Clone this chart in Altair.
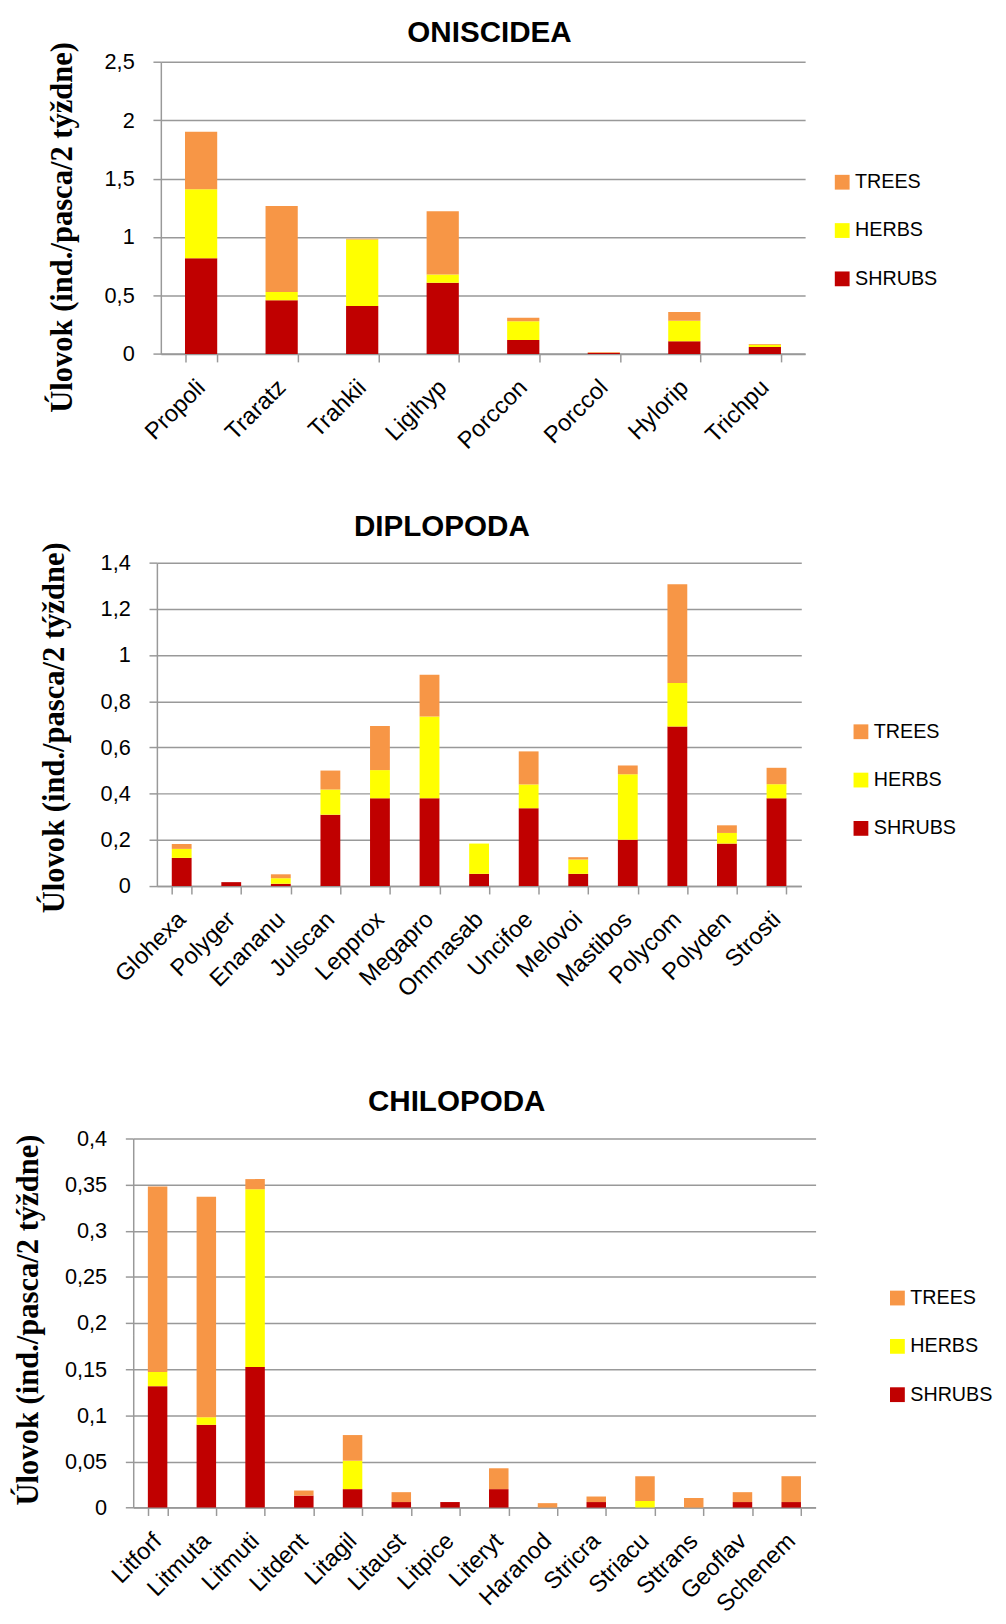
import altair as alt
import pandas as pd

GROUPS = ["TREES", "HERBS", "SHRUBS"]
COLORS = ["#F79646", "#FFFF00", "#C00000"]
Y_TITLE = "Úlovok (ind./pasca/2 týždne)"

ONI_TITLE = "ONISCIDEA"
ONI_CATS = ["Propoli", "Traratz", "Trahkii", "Ligihyp", "Porccon", "Porccol", "Hylorip", "Trichpu"]
ONI_SHRUBS = [0.82, 0.46, 0.41, 0.61, 0.12, 0.008, 0.11, 0.06]
ONI_HERBS = [0.59, 0.07, 0.57, 0.07, 0.16, 0.0, 0.175, 0.02]
ONI_TREES = [0.49, 0.735, 0.005, 0.54, 0.03, 0.008, 0.075, 0.005]
ONI_TICKS = [0, 0.5, 1, 1.5, 2, 2.5]

DIP_TITLE = "DIPLOPODA"
DIP_CATS = ["Glohexa", "Polyger", "Enananu", "Julscan", "Lepprox", "Megapro", "Ommasab",
            "Uncifoe", "Melovoi", "Mastibos", "Polycom", "Polyden", "Strosti"]
DIP_SHRUBS = [0.122, 0.017, 0.010, 0.309, 0.380, 0.380, 0.053, 0.337, 0.053, 0.200, 0.691, 0.184, 0.380]
DIP_HERBS = [0.039, 0.0, 0.024, 0.109, 0.122, 0.354, 0.131, 0.103, 0.062, 0.284, 0.188, 0.046, 0.061]
DIP_TREES = [0.021, 0.0, 0.017, 0.082, 0.191, 0.181, 0.0, 0.143, 0.010, 0.038, 0.428, 0.033, 0.071]
DIP_TICKS = [0, 0.2, 0.4, 0.6, 0.8, 1, 1.2, 1.4]

CHI_TITLE = "CHILOPODA"
CHI_CATS = ["Litforf", "Litmuta", "Litmuti", "Litdent", "Litagil", "Litaust", "Litpice",
            "Literyt", "Haranod", "Stricra", "Striacu", "Sttrans", "Geoflav", "Schenem"]
CHI_SHRUBS = [0.1316, 0.0897, 0.1524, 0.013, 0.020, 0.006, 0.006, 0.020, 0.0, 0.006, 0.0, 0.0, 0.006, 0.006]
CHI_HERBS = [0.0154, 0.0082, 0.1926, 0.0, 0.0308, 0.0, 0.0, 0.0, 0.0, 0.0, 0.007, 0.0, 0.0, 0.0]
CHI_TREES = [0.201, 0.2391, 0.011, 0.0055, 0.0278, 0.0107, 0.0, 0.0226, 0.0048, 0.006, 0.027, 0.0104, 0.0107, 0.028]
CHI_TICKS = [0, 0.05, 0.1, 0.15, 0.2, 0.25, 0.3, 0.35, 0.4]

# layout (pixels, relative to each plot's origin)
ONI_LAYOUT = dict(width=653.4, height=296.4, left=154, top=48, bottom=447.5, tdx=6.6, tby=-20,
                  ytx=-99.7, yty=167.5, lx=681, ly=112.2)
DIP_LAYOUT = dict(width=653.5, height=328, left=149.5, top=60, bottom=523.7, tdx=-37.75, tby=-26.8,
                  ytx=-103.5, yty=167, lx=704, ly=161.5)
CHI_LAYOUT = dict(width=692, height=374.3, left=126, top=60, bottom=200, tdx=-18, tby=-27.5,
                  ytx=-106, yty=183.6, lx=765, ly=151.8)

SANS = "Liberation Sans"
SERIF = "Liberation Serif"
GRAY = "#999999"


def marker(x, y, baseline):
    return alt.Chart(pd.DataFrame({"t": ["."]})).mark_text(
        color="white", fontSize=2, align="left", baseline=baseline).encode(
        x=alt.value(x), y=alt.value(y), text="t:N")


def build(title, cats, shrubs, herbs, trees, ticks, lay):
    rows = []
    for i, c in enumerate(cats):
        for g, v, o in (("SHRUBS", shrubs[i], 0), ("HERBS", herbs[i], 1), ("TREES", trees[i], 2)):
            rows.append({"cat": c, "group": g, "value": v, "ord": o})
    df = pd.DataFrame(rows)
    bars = alt.Chart(df).mark_bar().encode(
        x=alt.X("cat:N", sort=cats,
                scale=alt.Scale(paddingInner=0.6, paddingOuter=0.3),
                axis=alt.Axis(title=None, labelAngle=-45, labelAlign="right", labelBaseline="middle",
                              labelFont=SANS, labelFontSize=24, labelColor="black", labelPadding=22,
                              tickBand="extent", tickSize=8, tickColor=GRAY, tickWidth=1.5,
                              domainColor=GRAY, domainWidth=1.5, grid=False, labelOverlap=False)),
        y=alt.Y("value:Q", stack="zero",
                scale=alt.Scale(domain=[0, ticks[-1]], nice=False),
                axis=alt.Axis(values=ticks, labelExpr="replace(format(datum.value, '.2~f'), '.', ',')",
                              labelFont=SANS, labelFontSize=22, labelColor="black", labelPadding=19,
                              tickSize=8, tickColor=GRAY, tickWidth=1.5, domainColor=GRAY, domainWidth=1.5,
                              gridColor=GRAY, gridWidth=1.5,
                              title=Y_TITLE, titleFont=SERIF, titleFontSize=31, titleFontWeight="bold",
                              titleColor="black", titleAngle=270, titleAlign="center", titleBaseline="middle",
                              titleX=lay["ytx"], titleY=lay["yty"])),
        color=alt.Color("group:N", scale=alt.Scale(domain=GROUPS, range=COLORS),
                        legend=alt.Legend(title=None, orient="none", legendX=lay["lx"], legendY=lay["ly"],
                                          direction="vertical", symbolType="square", symbolSize=225,
                                          symbolStrokeWidth=0, labelFont=SANS, labelFontSize=20,
                                          labelColor="black", labelOffset=3, rowPadding=29, padding=0)),
        order=alt.Order("ord:Q"),
    )
    head = alt.Chart(pd.DataFrame({"t": [title]})).mark_text(
        font=SANS, fontSize=30, fontWeight="bold", color="black", align="center",
        baseline="alphabetic").encode(
        x=alt.value(lay["width"] / 2 + lay["tdx"]), y=alt.value(lay["tby"]), text="t:N")
    left_m = marker(-lay["left"], lay["height"] / 2, "middle")
    top_m = marker(0, -lay["top"], "top")
    bottom_m = marker(0, lay["bottom"], "bottom")
    return alt.layer(bars, head, left_m, top_m, bottom_m).properties(
        width=lay["width"], height=lay["height"])


def row(ch):
    blank = marker(0, 0, "top").properties(width=1, height=1)
    return alt.hconcat(blank, ch, spacing=0).resolve_scale(color="independent").resolve_legend(
        color="independent")


c1 = build(ONI_TITLE, ONI_CATS, ONI_SHRUBS, ONI_HERBS, ONI_TREES, ONI_TICKS, ONI_LAYOUT)
c2 = build(DIP_TITLE, DIP_CATS, DIP_SHRUBS, DIP_HERBS, DIP_TREES, DIP_TICKS, DIP_LAYOUT)
c3 = build(CHI_TITLE, CHI_CATS, CHI_SHRUBS, CHI_HERBS, CHI_TREES, CHI_TICKS, CHI_LAYOUT)

chart = alt.vconcat(row(c1), row(c2), row(c3), spacing=0).resolve_scale(
    color="independent").resolve_legend(color="independent").properties(
    padding={"left": 0, "top": -5, "right": 5, "bottom": 5}
).configure_view(stroke=None)

chart.save("out.html", embed_options={"renderer": "svg", "actions": False})
